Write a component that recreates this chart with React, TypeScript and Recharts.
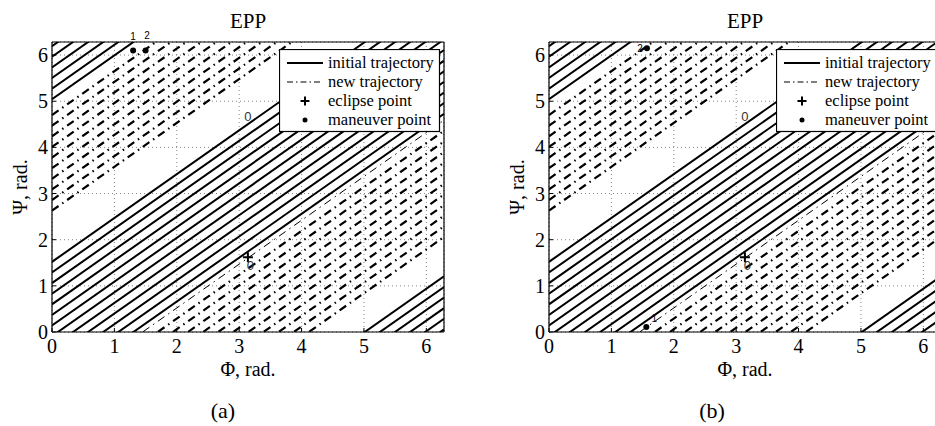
import React from 'react';
import { ComposedChart, Line, Scatter, XAxis, YAxis, CartesianGrid } from 'recharts';

const TWO_PI = 2 * Math.PI;
const phiTicks = [0, 1, 2, 3, 4, 5, 6];
const psiTicks = [0, 1, 2, 3, 4, 5, 6];

// trajectories are straight lines psi = offset + SLOPE * phi on the (phi, psi) torus
const SLOPE = 0.95;
const initialOffsets = [1.52, 1.29, 1.06, 0.83, 0.6, 0.37, 0.14, -0.09, -0.32, -0.55, -0.78, -1.01, -1.24];
const newUpperOffsets = [4.7, 4.47, 4.24, 4.01, 3.78, 3.55, 3.32, 3.09, 2.86, 2.63];
const newLowerOffsets = [-1.38, -1.61, -1.84, -2.07, -2.3, -2.53, -2.76, -2.99, -3.22, -3.45, -3.68, -3.91];

const eclipsePoints = [{ phi: 3.14, psi: 1.62 }];
const zeroLabels = [
  { phi: 3.14, psi: 4.67, text: '0' },
  { phi: 3.18, psi: 1.45, text: '0' },
];
const maneuverA = [
  { phi: 1.3, psi: 6.1, name: '1' },
  { phi: 1.5, psi: 6.1, name: '2' },
];
const maneuverB = [
  { phi: 1.56, psi: 0.11, name: '1' },
  { phi: 1.57, psi: 6.15, name: '2' },
];

const segment = (offset: number) => [
  { phi: 0, psi: offset },
  { phi: TWO_PI, psi: offset + SLOPE * TWO_PI },
];

const SERIF = 'Liberation Serif, Times New Roman, serif';
const SANS = 'Liberation Sans, Arial, sans-serif';

function Plus(props: any) {
  const { cx, cy } = props;
  return (
    <path d={`M${cx - 5},${cy}H${cx + 5}M${cx},${cy - 5}V${cy + 5}`} stroke="#000" strokeWidth={2} />
  );
}

function ZeroText(props: any) {
  const { cx, cy, payload } = props;
  return (
    <text x={cx} y={cy + 5} textAnchor="middle" fontFamily={SANS} fontSize={13} fill="#333">
      {payload.text}
    </text>
  );
}

const axisLine = { stroke: '#000', strokeWidth: 1.2 };
const tickLine = { stroke: '#000' };
const tickFont = { fill: '#000', fontSize: 20, fontFamily: SERIF };

function Panel({ left, maneuver, labelOffsets, caption, captionX }: any) {
  const solid = initialOffsets.flatMap((c) => [c - TWO_PI, c, c + TWO_PI]);
  return (
    <div style={{ position: 'absolute', left, top: 0, width: 470, height: 426 }}>
      <ComposedChart width={470} height={426} margin={{ top: 32, right: 16, bottom: 54, left: 12 }}>
        <CartesianGrid stroke="#666" strokeDasharray="1 3" strokeWidth={0.8} />
        <XAxis
          dataKey="phi"
          type="number"
          domain={[0, TWO_PI]}
          ticks={phiTicks}
          interval={0}
          allowDataOverflow
          height={40}
          tickSize={-4}
          tickMargin={11}
          axisLine={axisLine}
          tickLine={tickLine}
          tick={tickFont}
        />
        <XAxis
          xAxisId="top"
          dataKey="phi"
          orientation="top"
          type="number"
          domain={[0, TWO_PI]}
          ticks={phiTicks}
          interval={0}
          height={10}
          tickSize={-4}
          tick={false}
          axisLine={axisLine}
          tickLine={tickLine}
        />
        <YAxis
          dataKey="psi"
          type="number"
          domain={[0, TWO_PI]}
          ticks={psiTicks}
          interval={0}
          allowDataOverflow
          width={40}
          tickSize={-4}
          tickMargin={8}
          axisLine={axisLine}
          tickLine={tickLine}
          tick={tickFont}
        />
        <YAxis
          yAxisId="right"
          dataKey="psi"
          orientation="right"
          type="number"
          domain={[0, TWO_PI]}
          ticks={psiTicks}
          interval={0}
          width={10}
          tickSize={-4}
          tick={false}
          axisLine={axisLine}
          tickLine={tickLine}
        />
        {solid.map((c, i) => (
          <Line
            key={`s${i}`}
            data={segment(c)}
            dataKey="psi"
            stroke="#000"
            strokeWidth={2}
            dot={false}
            activeDot={false}
            isAnimationActive={false}
          />
        ))}
        {[...newUpperOffsets, ...newLowerOffsets].map((c, i) => (
          <Line
            key={`n${i}`}
            data={segment(c)}
            dataKey="psi"
            stroke="#000"
            strokeWidth={c === newLowerOffsets[0] ? 1 : 2.2}
            strokeDasharray="8 4.5 1.5 4.5"
            dot={false}
            activeDot={false}
            isAnimationActive={false}
          />
        ))}
        <Scatter data={zeroLabels} dataKey="psi" isAnimationActive={false} shape={(p: any) => <ZeroText {...p} />} />
        <Scatter data={eclipsePoints} dataKey="psi" isAnimationActive={false} shape={(p: any) => <Plus {...p} />} />
        <Scatter
          data={maneuver}
          dataKey="psi"
          xAxisId="top"
          yAxisId="right"
          isAnimationActive={false}
          shape={(p: any) => {
            const off = labelOffsets[p.payload.name];
            return (
              <g>
                <circle cx={p.cx} cy={p.cy} r={3} fill="#000" />
                <text x={p.cx + off[0]} y={p.cy + off[1]} textAnchor="middle" fontFamily={SANS} fontSize={10} fill="#000">
                  {p.payload.name}
                </text>
              </g>
            );
          }}
        />
      </ComposedChart>

      <svg width={162} height={84} style={{ position: 'absolute', left: 279, top: 49 }}>
        <rect x={0.5} y={0.5} width={160} height={82} fill="#fff" stroke="#000" strokeWidth={1.2} />
        <line x1={8} x2={44} y1={14} y2={14} stroke="#000" strokeWidth={2} />
        <line x1={8} x2={44} y1={33} y2={33} stroke="#000" strokeWidth={1.2} strokeDasharray="6 3 1.5 3" />
        <path d="M21.5,52H30.5M26,47.5V56.5" stroke="#000" strokeWidth={2} />
        <circle cx={26} cy={71} r={2.5} fill="#000" />
        <g fontFamily={SERIF} fontSize={16.5} fill="#000">
          <text x={49} y={19}>initial trajectory</text>
          <text x={49} y={38}>new trajectory</text>
          <text x={49} y={57}>eclipse point</text>
          <text x={49} y={76}>maneuver point</text>
        </g>
      </svg>

      <svg width={470} height={426} style={{ position: 'absolute', left: 0, top: 0, pointerEvents: 'none' }}>
        <g fontFamily={SERIF} fill="#000">
          <text x={248} y={28} textAnchor="middle" fontSize={21}>EPP</text>
          <text x={248} y={375.5} textAnchor="middle" fontSize={20}>Φ, rad.</text>
          <text transform="translate(26.5,187) rotate(-90)" textAnchor="middle" fontSize={20}>Ψ, rad.</text>
          <text x={captionX} y={418} textAnchor="middle" fontSize={22}>{caption}</text>
        </g>
      </svg>
    </div>
  );
}

export default function App() {
  return (
    <div style={{ position: 'absolute', left: 0, top: 0, width: 935, height: 426, overflow: 'hidden', background: '#fff' }}>
      <Panel left={0} maneuver={maneuverA} labelOffsets={{ '1': [0, -10], '2': [1.5, -11] }} caption="(a)" captionX={223} />
      <Panel left={497} maneuver={maneuverB} labelOffsets={{ '1': [8, -5], '2': [-7, 4] }} caption="(b)" captionX={215} />
    </div>
  );
}
